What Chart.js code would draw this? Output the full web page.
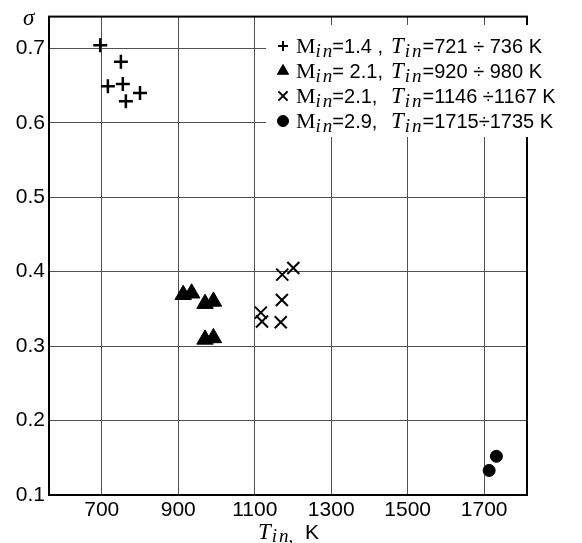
<!DOCTYPE html>
<html>
<head>
<meta charset="utf-8">
<script src="https://cdn.jsdelivr.net/npm/chart.js@4"></script>
<style>
  body { margin: 0; background: #fff; }
  #wrap { width: 582px; height: 543px; }
</style>
</head>
<body>
<div id="wrap"><canvas id="myChart"></canvas></div>
<script>
// data
const plusT = [696, 750, 716, 755, 763, 800];
const plusS = [0.704, 0.682, 0.649, 0.652, 0.629, 0.640];
const triT = [913, 935, 970, 992, 970, 992];
const triS = [0.369, 0.371, 0.357, 0.360, 0.309, 0.311];
const crossT = [1172, 1201, 1171, 1116, 1119, 1168];
const crossS = [0.396, 0.405, 0.362, 0.345, 0.333, 0.332];
const dotT = [1732, 1713];
const dotS = [0.152, 0.133];

const xTicks = [700, 900, 1100, 1300, 1500, 1700];
const yTicks = [0.1, 0.2, 0.3, 0.4, 0.5, 0.6, 0.7];

// legend rows: M value, T range
const legM = ['=1.4 ,', '= 2.1,', '=2.1,', '=2.9,'];
const legT = ['=721 ÷ 736 K', '=920 ÷ 980 K', '=1146 ÷1167 K', '=1715÷1735 K'];
const legStyle = ['cross', 'triangle', 'crossRot', 'circle'];

const SANS = '"Liberation Sans", Arial, sans-serif';
const SERIF = '"Liberation Serif", "Times New Roman", serif';

function pts(xs, ys) {
  return xs.map((x, i) => ({ x: x, y: ys[i] }));
}

// draws a string and returns where the next one starts
function run(c, txt, font, x, y) {
  c.font = font;
  c.fillText(txt, x, y);
  return x + c.measureText(txt).width;
}

// italic subscript "in", letters a bit apart like the math font
function sub(c, x, y) {
  x = run(c, 'i', 'italic 19px ' + SERIF, x, y);
  return run(c, 'n', 'italic 19px ' + SERIF, x + 2, y);
}

// frame + legend + axis titles drawn by hand (mixed fonts / subscripts)
const decor = {
  id: 'decor',
  beforeDatasetsDraw(chart) {
    const c = chart.ctx, a = chart.chartArea;
    c.save();
    c.strokeStyle = '#000';
    c.lineWidth = 2;
    c.strokeRect(a.left, a.top, a.right - a.left, a.bottom - a.top);
    c.restore();
  },
  afterDraw(chart) {
    const c = chart.ctx;
    c.save();
    // legend box covers grid and frame
    c.fillStyle = '#fff';
    c.fillRect(266, 25, 316, 112);

    c.fillStyle = '#000';
    c.strokeStyle = '#000';
    c.textBaseline = 'alphabetic';
    c.textAlign = 'left';
    for (let i = 0; i < 4; i++) {
      const base = 53 + i * 25;
      const st = legStyle[i];
      let r = 5, bw = 2;
      if (st == 'triangle') { r = 6.5; bw = 1; }
      if (st == 'crossRot') { r = 6.5; bw = 2; }
      if (st == 'circle') { r = 5.5; bw = 1; }
      c.lineWidth = bw;
      Chart.helpers.drawPoint(c, { pointStyle: st, radius: r, borderWidth: bw, rotation: 0 }, 283, base - 7);

      let x = run(c, 'M', '22px ' + SERIF, 296, base);
      x = sub(c, x, base + 4);
      run(c, legM[i], '20px ' + SANS, x, base);
      x = run(c, 'T', 'italic 23px ' + SERIF, 391, base);
      x = sub(c, x + 1, base + 4);
      run(c, legT[i], '20px ' + SANS, x + 1, base);
    }

    // sigma
    run(c, 'σ', 'italic 23px ' + SERIF, 23, 25);

    // x title
    let x = run(c, 'T', 'italic 23px ' + SERIF, 258, 539);
    x = sub(c, x + 1, 542);
    run(c, ',', 'italic 19px ' + SERIF, x, 542);
    run(c, 'K', '21px ' + SANS, 305, 539);
    c.restore();
  }
};

const ctx = document.getElementById('myChart');

new Chart(ctx, {
  type: 'scatter',
  data: {
    datasets: [
      {
        data: pts(plusT, plusS),
        pointStyle: 'cross',
        pointRadius: 7,
        borderColor: '#000',
        pointBorderWidth: 2.5
      },
      {
        data: pts(triT, triS),
        pointStyle: 'triangle',
        pointRadius: 9.5,
        backgroundColor: '#000',
        borderColor: '#000',
        pointBorderWidth: 1
      },
      {
        data: pts(crossT, crossS),
        pointStyle: 'crossRot',
        pointRadius: 8.5,
        borderColor: '#000',
        pointBorderWidth: 2
      },
      {
        data: pts(dotT, dotS),
        pointStyle: 'circle',
        pointRadius: 6,
        backgroundColor: '#000',
        borderColor: '#000',
        pointBorderWidth: 1
      }
    ]
  },
  options: {
    responsive: true,
    maintainAspectRatio: false,
    animation: false,
    layout: { padding: { top: 12, right: 55, left: 0, bottom: 0 } },
    plugins: {
      legend: { display: false },
      tooltip: { enabled: false }
    },
    scales: {
      x: {
        type: 'linear',
        min: 562,
        max: 1812,
        afterBuildTicks: (s) => { s.ticks = xTicks.map(v => ({ value: v })); },
        afterFit: (s) => { s.height = 48; },
        ticks: {
          padding: 3,
          color: '#000',
          font: { family: SANS, size: 21 },
          maxRotation: 0,
          callback: (v) => String(v)
        },
        grid: { color: '#505050', lineWidth: 1, drawTicks: false },
        border: { display: false }
      },
      y: {
        type: 'linear',
        min: 0.1,
        max: 0.7426,
        afterBuildTicks: (s) => { s.ticks = yTicks.map(v => ({ value: v })); },
        afterFit: (s) => { s.width = 49; },
        ticks: {
          padding: 4,
          color: '#000',
          font: { family: SANS, size: 21 },
          callback: (v) => v.toFixed(1)
        },
        grid: { color: '#505050', lineWidth: 1, drawTicks: false },
        border: { display: false }
      }
    }
  },
  plugins: [decor]
});
</script>
</body>
</html>
